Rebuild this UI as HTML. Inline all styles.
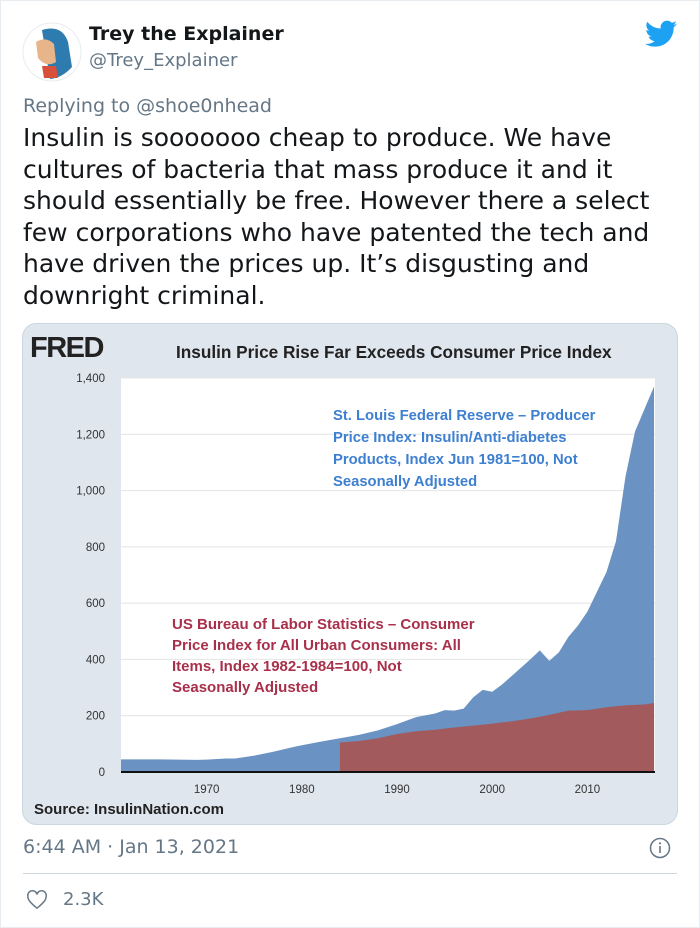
<!DOCTYPE html>
<html><head><meta charset="utf-8">
<style>
body{margin:0;width:700px;height:928px;background:#fff;font-family:"DejaVu Sans","Liberation Sans",sans-serif;position:relative;overflow:hidden}
.a{position:absolute;white-space:nowrap}
</style></head><body>
<div class="a" style="left:0;top:0;width:698px;height:926px;border:1px solid #e6ecf0"></div>
<svg class="a" style="left:22px;top:22px" width="60" height="60" viewBox="0 0 60 60">
<circle cx="30" cy="30" r="29" fill="#fff" stroke="#e6ecf0"/>
<path d="M20 8 Q40 2 46 20 L50 45 Q40 56 28 57 Z" fill="#2e7bb0"/>
<path d="M14 20 Q24 14 32 22 L34 40 Q24 46 16 36 Z" fill="#e8b48a"/>
<path d="M20 44 L34 44 L36 56 L22 56 Z" fill="#d9503a"/>
</svg>
<div class="a" style="left:89px;top:23px;font-size:19px;font-weight:bold;color:#14171a">Trey the Explainer</div>
<div class="a" style="left:89px;top:50px;font-size:18px;color:#657786">@Trey_Explainer</div>
<svg class="a" style="left:645px;top:20px" width="32" height="28" viewBox="0 0 24 20"><path fill="#1da1f2" d="M24 2.4a10 10 0 0 1-2.8.8A5 5 0 0 0 23.3.4a9.8 9.8 0 0 1-3.1 1.2A4.9 4.9 0 0 0 11.8 6 14 14 0 0 1 1.7.9a4.9 4.9 0 0 0 1.5 6.6A4.9 4.9 0 0 1 1 6.9 4.9 4.9 0 0 0 4.9 11.8a5 5 0 0 1-2.2.1 4.9 4.9 0 0 0 4.6 3.4A9.9 9.9 0 0 1 0 17.3 14 14 0 0 0 7.5 19.5c9.1 0 14-7.5 14-14v-.6A10 10 0 0 0 24 2.4z"/></svg>
<div class="a" style="left:23px;top:95px;font-size:19px;color:#657786">Replying to @shoe0nhead</div>
<div class="a" style="left:23px;top:122px;font-size:25px;line-height:31.5px;color:#14171a">Insulin is sooooooo cheap to produce. We have<br>cultures of bacteria that mass produce it and it<br>should essentially be free. However there a select<br>few corporations who have patented the tech and<br>have driven the prices up. It’s disgusting and<br>downright criminal.</div>

<svg class="a" style="left:22px;top:323px" width="656" height="502" viewBox="22 323 656 502" id="chart">
<rect x="22.5" y="323.5" width="655" height="501" rx="14" fill="#dfe6ee" stroke="#ccd6dd"/>
<rect x="121" y="378" width="534" height="394" fill="#fff"/>
<text x="30" y="357" font-family="Liberation Sans,sans-serif" font-weight="bold" font-size="29" fill="#222" letter-spacing="-1.5">FRED</text>
<text x="176" y="358" font-family="Liberation Sans,sans-serif" font-weight="bold" font-size="17.2" fill="#222">Insulin Price Rise Far Exceeds Consumer Price Index</text>
<g id="grid"></g>
<g id="areas"></g>
<line x1="121" y1="772" x2="655" y2="772" stroke="#111" stroke-width="2"/>
<g id="labels" font-family="Liberation Sans,sans-serif" font-size="11.5" fill="#333"></g>
<text font-family="Liberation Sans,sans-serif" font-weight="bold" font-size="14.8" fill="#3d7fd0"><tspan x="333" y="420">St. Louis Federal Reserve – Producer</tspan><tspan x="333" y="442">Price Index: Insulin/Anti-diabetes</tspan><tspan x="333" y="464">Products, Index Jun 1981=100, Not</tspan><tspan x="333" y="486">Seasonally Adjusted</tspan></text>
<text font-family="Liberation Sans,sans-serif" font-weight="bold" font-size="15" fill="#a8304a"><tspan x="172" y="629">US Bureau of Labor Statistics – Consumer</tspan><tspan x="172" y="650">Price Index for All Urban Consumers: All</tspan><tspan x="172" y="671">Items, Index 1982-1984=100, Not</tspan><tspan x="172" y="692">Seasonally Adjusted</tspan></text>
<text x="34" y="814" font-family="Liberation Sans,sans-serif" font-weight="bold" font-size="15" fill="#222">Source: InsulinNation.com</text>
</svg>

<div class="a" style="left:23px;top:836px;font-size:19px;color:#657786">6:44 AM · Jan 13, 2021</div>
<svg class="a" style="left:649px;top:837px" width="22" height="22" viewBox="0 0 22 22"><circle cx="11" cy="11" r="9.5" fill="none" stroke="#657786" stroke-width="1.5"/><rect x="10.2" y="9" width="1.6" height="7" fill="#657786"/><circle cx="11" cy="6.3" r="1.1" fill="#657786"/></svg>
<div class="a" style="left:23px;top:873px;width:654px;height:1px;background:#ccd6dd"></div>
<svg class="a" style="left:26px;top:889px" width="22" height="22" viewBox="0 0 24 24"><path d="M12 21 C5 15 2 12 2 8 A5 5 0 0 1 12 6 A5 5 0 0 1 22 8 C22 12 19 15 12 21Z" fill="none" stroke="#657786" stroke-width="1.6"/></svg>
<div class="a" style="left:63px;top:889px;font-size:18px;color:#657786">2.3K</div>

<script>
const yTicks=[0,200,400,600,800,1000,1200,1400];
const yTickLabels=["0","200","400","600","800","1,000","1,200","1,400"];
const xTicks=[1970,1980,1990,2000,2010];
const insulinYears=[1961,1965,1969,1970,1972,1973,1975,1977,1979,1980,1982,1984,1986,1988,1990,1992,1994,1995,1996,1997,1998,1999,2000,2001,2002,2003,2004,2005,2006,2007,2008,2009,2010,2011,2012,2013,2014,2015,2016,2017];
const insulinValues=[45,45,43,44,48,48,58,72,88,95,108,120,132,148,170,195,208,220,218,225,265,292,285,310,340,370,400,432,395,425,480,520,570,640,710,820,1050,1210,1290,1370];
const cpiYears=[1984,1986,1988,1990,1992,1994,1996,1998,2000,2002,2004,2006,2008,2010,2012,2014,2016,2017];
const cpiValues=[105,110,120,135,145,150,158,165,172,180,190,203,218,220,230,237,240,245];
const X0=121,X1=655,Y0=772,Y1=378,yr0=1961,yr1=2017.1,vMax=1400;
const xs=y=>X0+(y-yr0)/(yr1-yr0)*(X1-X0);
const ys=v=>Y0-v/vMax*(Y0-Y1);
const NS="http://www.w3.org/2000/svg";
const grid=document.getElementById('grid'),areas=document.getElementById('areas'),labels=document.getElementById('labels');
yTicks.forEach((t,i)=>{
 if(t>0){const l=document.createElementNS(NS,'line');
 l.setAttribute('x1',X0);l.setAttribute('x2',X1);l.setAttribute('y1',ys(t));l.setAttribute('y2',ys(t));
 l.setAttribute('stroke','#e4e4e4');
 
 
 grid.appendChild(l);}
 const tx=document.createElementNS(NS,'text');
 tx.setAttribute('x',105);tx.setAttribute('y',ys(t)+4);tx.setAttribute('text-anchor','end');
 tx.textContent=yTickLabels[i];
 
 
 labels.appendChild(tx);
});
xTicks.forEach(t=>{
 const tx=document.createElementNS(NS,'text');
 tx.setAttribute('x',xs(t));tx.setAttribute('y',793);tx.setAttribute('text-anchor','middle');
 tx.textContent=t;
 
 
 labels.appendChild(tx);
});
function area(years,vals,color,name){
 let d='M'+xs(years[0])+','+Y0;
 years.forEach((y,i)=>d+=' L'+xs(y)+','+ys(vals[i]));
 d+=' L'+xs(years[years.length-1])+','+Y0+' Z';
 const p=document.createElementNS(NS,'path');
 p.setAttribute('d',d);p.setAttribute('fill',color);
 
 
 areas.appendChild(p);
}
area(insulinYears,insulinValues,'#6a92c2','insulin-ppi-area');
area(cpiYears,cpiValues,'#a25a5c','cpi-area');
</script>
</body></html>
